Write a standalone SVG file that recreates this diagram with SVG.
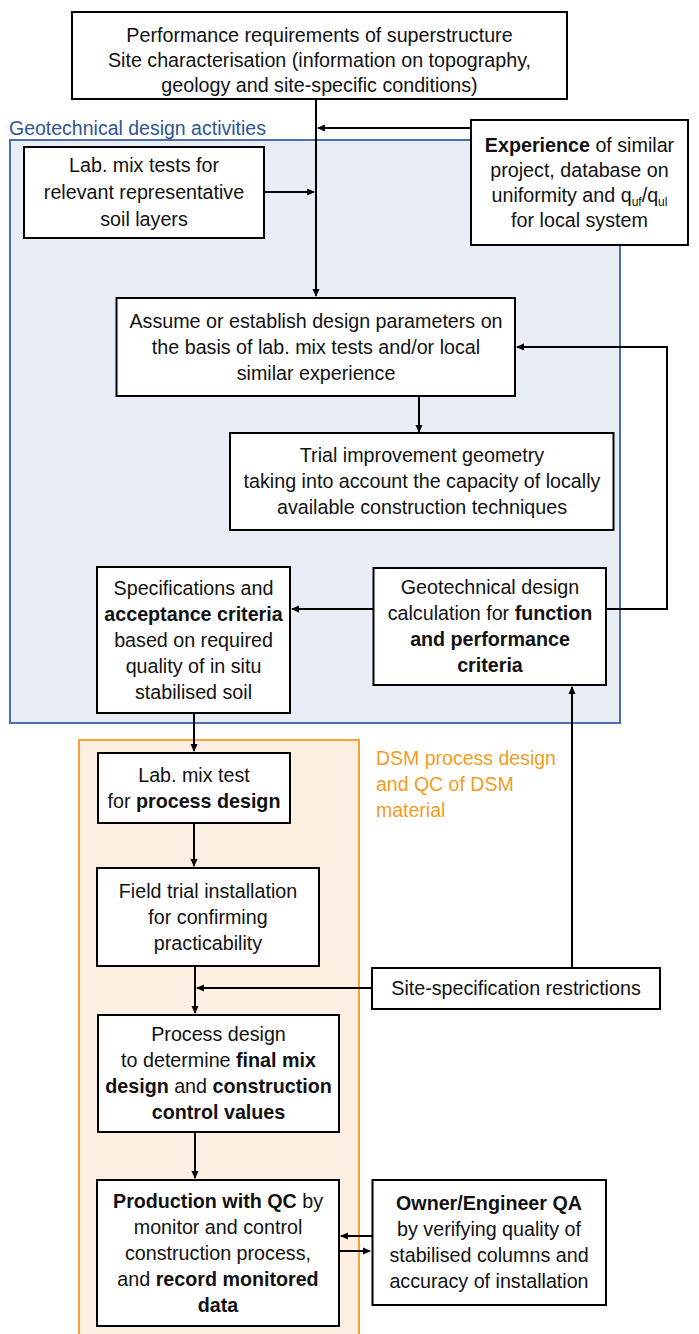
<svg xmlns="http://www.w3.org/2000/svg" width="699" height="1334" viewBox="0 0 699 1334">
<style>
.box{fill:#fff;stroke:#000;stroke-width:2}
.t{font-family:"Liberation Sans",Arial,sans-serif;font-size:19.7px;fill:#111;text-anchor:middle}
.b{font-weight:bold}
.c{fill:none;stroke:#000;stroke-width:2}
.lbl{font-family:"Liberation Sans",Arial,sans-serif;font-size:19.5px}
</style>
<defs>
<marker id="ah" markerWidth="8" markerHeight="8" refX="7" refY="4" orient="auto" markerUnits="userSpaceOnUse">
<path d="M0,0.5 L8,4 L0,7.5 z" fill="#000"/>
</marker>
</defs>
<rect id="region-geo" x="10" y="140" width="610" height="583" fill="#e9eef6" stroke="#4a6ea8" stroke-width="2"/>
<text class="lbl" x="9" y="135" fill="#2f5597">Geotechnical design activities</text>
<rect id="region-dsm" x="79" y="740" width="280" height="610" fill="#fdf0e3" stroke="#f7a13a" stroke-width="2"/>
<g class="lbl" fill="#f39c1f"><text x="376" y="765">DSM process design</text><text x="376" y="791">and QC of DSM</text><text x="376" y="817">material</text></g>

<g id="connectors">
<path class="c" d="M316,99 V296" marker-end="url(#ah)"/>
<path class="c" d="M471,128 H318" marker-end="url(#ah)"/>
<path class="c" d="M264,192 H314" marker-end="url(#ah)"/>
<path class="c" d="M419,396 V432" marker-end="url(#ah)"/>
<path class="c" d="M373,609 H292" marker-end="url(#ah)"/>
<path class="c" d="M606,609 H667 V347 H517" marker-end="url(#ah)"/>
<path class="c" d="M194,713 V751" marker-end="url(#ah)"/>
<path class="c" d="M194,823 V866" marker-end="url(#ah)"/>
<path class="c" d="M195,966 V1013" marker-end="url(#ah)"/>
<path class="c" d="M372,988 H197" marker-end="url(#ah)"/>
<path class="c" d="M572,968 V687" marker-end="url(#ah)"/>
<path class="c" d="M195,1132 V1178" marker-end="url(#ah)"/>
<path class="c" d="M372,1236 H341" marker-end="url(#ah)"/>
<path class="c" d="M339,1251 H370" marker-end="url(#ah)"/>
</g>

<g id="n-top"><rect class="box" x="72" y="12" width="495" height="87"/>
<text class="t" x="319.5" y="42">Performance requirements of superstructure</text>
<text class="t" x="319.5" y="67">Site characterisation (information on topography,</text>
<text class="t" x="319.5" y="92">geology and site-specific conditions)</text></g>

<g id="n-lab"><rect class="box" x="24" y="147" width="240" height="91"/>
<text class="t" x="144" y="172">Lab. mix tests for</text>
<text class="t" x="144" y="199">relevant representative</text>
<text class="t" x="144" y="226">soil layers</text></g>

<g id="n-exp"><rect class="box" x="471" y="120" width="217" height="125"/>
<text class="t" x="579.5" y="152"><tspan class="b">Experience</tspan> of similar</text>
<text class="t" x="579.5" y="177">project, database on</text>
<text class="t" x="579.5" y="202">uniformity and q<tspan font-size="12" dy="4">uf</tspan><tspan dy="-4">/q</tspan><tspan font-size="12" dy="4">ul</tspan></text>
<text class="t" x="579.5" y="227">for local system</text></g>

<g id="n-assume"><rect class="box" x="116.5" y="298" width="398.5" height="98"/>
<text class="t" x="316" y="328">Assume or establish design parameters on</text>
<text class="t" x="316" y="354">the basis of lab. mix tests and/or local</text>
<text class="t" x="316" y="380">similar experience</text></g>

<g id="n-trial"><rect class="box" x="230" y="433" width="383.5" height="97"/>
<text class="t" x="422" y="462">Trial improvement geometry</text>
<text class="t" x="422" y="488">taking into account the capacity of locally</text>
<text class="t" x="422" y="514">available construction techniques</text></g>

<g id="n-spec"><rect class="box" x="97" y="567" width="193" height="146"/>
<text class="t" x="193.5" y="595">Specifications and</text>
<text class="t b" x="193.5" y="621">acceptance criteria</text>
<text class="t" x="193.5" y="647">based on required</text>
<text class="t" x="193.5" y="673">quality of in situ</text>
<text class="t" x="193.5" y="699">stabilised soil</text></g>

<g id="n-geocalc"><rect class="box" x="373.5" y="568" width="232.5" height="117"/>
<text class="t" x="490" y="594">Geotechnical design</text>
<text class="t" x="490" y="620">calculation for <tspan class="b">function</tspan></text>
<text class="t b" x="490" y="646">and performance</text>
<text class="t b" x="490" y="672">criteria</text></g>

<g id="n-labproc"><rect class="box" x="98" y="753" width="192" height="70"/>
<text class="t" x="194" y="782">Lab. mix test</text>
<text class="t" x="194" y="808">for <tspan class="b">process design</tspan></text></g>

<g id="n-field"><rect class="box" x="97" y="868" width="222" height="98"/>
<text class="t" x="208" y="898">Field trial installation</text>
<text class="t" x="208" y="924">for confirming</text>
<text class="t" x="208" y="950">practicability</text></g>

<g id="n-site"><rect class="box" x="372" y="968" width="288" height="41"/>
<text class="t" x="516" y="995">Site-specification restrictions</text></g>

<g id="n-process"><rect class="box" x="98" y="1015" width="241" height="117"/>
<text class="t" x="218.5" y="1041">Process design</text>
<text class="t" x="218.5" y="1067">to determine <tspan class="b">final mix</tspan></text>
<text class="t" x="218.5" y="1093"><tspan class="b">design</tspan> and <tspan class="b">construction</tspan></text>
<text class="t b" x="218.5" y="1119">control values</text></g>

<g id="n-prod"><rect class="box" x="97" y="1180" width="242" height="146"/>
<text class="t" x="218" y="1208"><tspan class="b">Production with QC</tspan> by</text>
<text class="t" x="218" y="1234">monitor and control</text>
<text class="t" x="218" y="1260">construction process,</text>
<text class="t" x="218" y="1286">and <tspan class="b">record monitored</tspan></text>
<text class="t b" x="218" y="1312">data</text></g>

<g id="n-owner"><rect class="box" x="372.5" y="1180" width="233.5" height="125"/>
<text class="t b" x="489" y="1210">Owner/Engineer QA</text>
<text class="t" x="489" y="1236">by verifying quality of</text>
<text class="t" x="489" y="1262">stabilised columns and</text>
<text class="t" x="489" y="1288">accuracy of installation</text></g>
</svg>
